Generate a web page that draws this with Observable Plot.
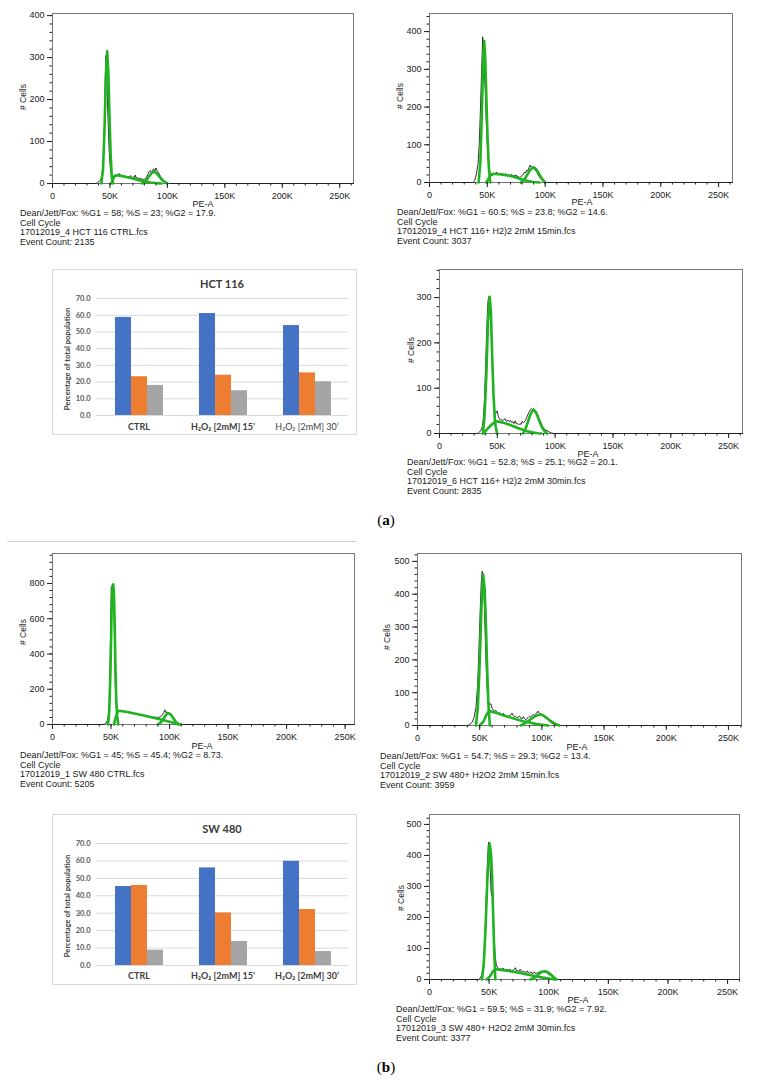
<!DOCTYPE html>
<html><head><meta charset="utf-8">
<script src="https://cdn.jsdelivr.net/npm/d3@7"></script>
<script src="https://cdn.jsdelivr.net/npm/@observablehq/plot@0.6"></script>
<style>
body{margin:0;background:#fff;}
#page{position:relative;width:757px;height:1086px;overflow:hidden;background:#fff;}
#page svg{position:absolute;overflow:visible;}
</style></head>
<body><div id="page"></div>
<script>
// ---------- histogram data: [PE-A (K), # Cells] ----------
const h1Black = [[0,0],[38,0],[39,2],[40.5,5],[42,8],[43,20],[44,45],[45,110],[45.8,230],[46.5,305],[47.2,270],[47.8,200],[48.5,140],[49.3,80],[50.2,40],[51,25],[52,16],[53,14],[54,18],[55,16],[56,22],[57,19],[58,24],[59,18],[60,21],[61,17],[62,20],[63,16],[64,18],[65,14],[66,17],[67,15],[68,19],[69,13],[70,16],[71,14],[72,20],[73,12],[74,14],[75,11],[76,13],[77,10],[78,12],[79,9],[80,11],[81,10],[82,16],[83,22],[84,28],[85,31],[86,26],[87,30],[88,35],[89,29],[90,37],[91,31],[92,27],[93,22],[94,17],[95,13],[96,9],[97,6],[98,4],[99,2],[100,1],[101,0],[262,0]];
const h1G1 = [[42.5,0],[44,35],[45.3,130],[46.5,260],[47.6,315],[48.6,265],[49.6,160],[50.6,70],[51.6,15],[52.7,0]];
const h1S = [[51,0],[52.5,8],[54,18],[56,20],[60,18],[65,15],[70,12],[75,8],[80,5],[85,2.5],[90,1],[95,0]];
const h1G2 = [[78,0],[80,3],[82,9],[84,17],[86,24],[88,28],[90,26],[92,20],[94,13],[96,7],[98,3],[100,0]];

const h2Black = [[0,0],[38,0],[39,5],[40,15],[41,30],[42,50],[43,100],[44,190],[45,290],[46,386],[46.8,340],[47.5,290],[48.3,240],[49,170],[50,100],[51,55],[52,30],[53,22],[54,18],[55,20],[56,23],[57,21],[58,28],[59,21],[60,24],[61,20],[62,25],[63,21],[64,23],[65,19],[66,24],[67,20],[68,18],[69,21],[70,17],[71,22],[72,16],[73,19],[74,17],[75,20],[76,15],[77,16],[78,13],[79,15],[80,18],[81,22],[82,27],[83,25],[84,33],[85,30],[86,40],[87,46],[88,39],[89,43],[90,37],[91,35],[92,30],[93,26],[94,20],[95,15],[96,10],[97,7],[98,4],[99,2],[100,1],[102,0],[262,0]];
const h2G1 = [[42.5,0],[44,55],[45.3,190],[46.4,320],[47.3,375],[48.2,330],[49.2,220],[50.3,110],[51.3,40],[52.5,0]];
const h2S = [[49,0],[51,10],[53,20],[55,23],[60,22],[65,20],[70,17],[75,13],[80,8],[85,4],[90,1.5],[95,0]];
const h2G2 = [[79,0],[81,5],[83,13],[85,23],[87,33],[89,39],[90.5,40],[92,36],[94,27],[96,16],[98,7],[100,0]];

const h3Black = [[0,0],[33,0],[34.5,3],[36,8],[37,15],[38,35],[39,80],[40,160],[41,240],[42,295],[42.8,302],[43.6,290],[44.4,250],[45.2,190],[46,120],[47,65],[48,42],[49,46],[49.8,50],[50.6,40],[51.5,34],[52.5,30],[53.5,31],[54.5,28],[55.5,30],[56.5,33],[57.5,28],[58.5,27],[59.5,30],[60.5,26],[61.5,29],[62.5,24],[63.5,26],[64.5,22],[65.5,28],[66.5,21],[67.5,22],[68.5,19],[69.5,22],[70.5,20],[71.5,27],[72.5,24],[73.5,26],[74.5,30],[75.5,36],[76.5,42],[77.5,48],[78.5,52],[79.5,55],[80.5,53],[81.5,55],[82.5,52],[83.5,49],[84.5,44],[85.5,38],[86.5,31],[87.5,26],[88.5,19],[89.5,14],[90.5,10],[92,7],[93.5,6],[95,3],[97,1],[99,0],[262,0]];
const h3G1 = [[37.5,0],[39,40],[40.5,130],[42,250],[43.4,302],[44.5,265],[45.5,175],[46.7,85],[48,25],[49.7,0]];
const h3S = [[38,0],[42,12],[46,22],[49.5,27],[55,24],[60,20],[65,15],[70,10],[75,5.5],[80,2.5],[85,0.5],[88,0]];
const h3G2 = [[72,0],[74,8],[76,22],[78,38],[80,49],[81.5,52],[83,48],[85,37],[87,23],[89,12],[91,5],[93,0]];

const h4Black = [[0,0],[43,0],[44.5,3],[46,10],[47,25],[48,60],[48.7,150],[49.3,350],[49.8,600],[50.2,780],[50.7,760],[51.2,720],[51.7,770],[52.2,790],[52.7,600],[53.2,380],[53.8,200],[54.5,110],[55.3,82],[56.5,78],[58,80],[59.5,76],[61,73],[62.5,70],[64,71],[65.5,66],[67,68],[68.5,63],[70,61],[71.5,58],[73,60],[74.5,55],[76,54],[77.5,51],[79,50],[80.5,47],[82,48],[83.5,44],[85,43],[86.5,40],[88,42],[89.5,39],[91,41],[92.5,45],[94,55],[95,68],[96,83],[97,66],[98,72],[99.5,62],[101,55],[102.5,42],[104,28],[105.5,16],[107,8],[108.5,3],[110,0],[258,0]];
const h4G1 = [[47.5,0],[48.5,80],[49.5,300],[50.5,640],[51.2,785],[51.9,795],[52.5,740],[53.1,580],[53.7,340],[54.4,150],[55.2,50],[56.2,0]];
const h4S = [[52.5,0],[54,40],[55.5,72],[57,78],[60,75],[65,69],[70,62],[75,55],[80,48],[85,40],[90,32],[95,24],[100,15],[105,7],[110,0]];
const h4G2 = [[90,0],[92.5,12],[95,34],[97,55],[99,64],[100.5,60],[102,48],[103.5,33],[105,18],[107.5,0]];

const h5Black = [[0,0],[40,0],[42,3],[44,10],[45.5,25],[47,55],[48.3,120],[49.3,220],[50.3,340],[51.2,430],[52,470],[52.8,450],[53.6,380],[54.4,280],[55.2,180],[56,110],[57,72],[58,64],[59,66],[60,52],[61,47],[62,44],[63,46],[64,40],[65,37],[66,39],[67,33],[68,30],[69,37],[70,32],[71,29],[72,31],[73,27],[74,30],[75,33],[76,38],[77,30],[78,27],[79,28],[80,24],[81,26],[82,29],[83,22],[84,20],[85,27],[86,21],[87,17],[88,22],[89,24],[90,28],[91,25],[92,31],[93,33],[94,30],[95,36],[96,38],[97,44],[98,36],[99,34],[100,31],[101,30],[102,26],[103,24],[104,20],[105,16],[106,13],[107,10],[108,7],[109,5],[110,3],[111,1],[112,0],[260.5,0]];
const h5G1 = [[47,0],[48.5,55],[50,190],[51.5,370],[52.8,460],[54,415],[55,310],[56,175],[57,65],[58.2,0]];
const h5S = [[50,0],[53,12],[55.5,33],[57.5,44],[62,40],[66,35],[70,30],[75,24],[80,18],[85,13],[90,9],[95,5],[100,2.5],[105,0]];
const h5G2 = [[83,0],[87,8],[91,19],[95,29],[98.4,34],[101,31],[104,23],[107,14],[110,6],[114,0]];

const h6Black = [[0,0],[41,0],[42.5,4],[44,15],[45.3,45],[46.3,110],[47.3,230],[48.3,350],[49.2,430],[49.6,443],[50.3,420],[51,350],[51.6,285],[52.2,270],[52.8,300],[53.4,230],[54.2,140],[55,80],[56,48],[57,38],[58,36],[59,33],[60,35],[61,32],[62,37],[63,31],[64,30],[65,34],[66,29],[67,33],[68,31],[69,28],[70,30],[71,32],[72,38],[73,27],[74,29],[75,26],[76,33],[77,25],[78,28],[79,23],[80,26],[81,22],[82,28],[83,21],[84,20],[85,25],[86,19],[87,21],[88,24],[89,18],[90,22],[91,20],[92,25],[93,23],[94,28],[95,24],[96,27],[97,22],[98,23],[99,19],[100,17],[101,14],[102,12],[103,9],[104,6],[105,4],[106,2],[107,1],[108,0],[260,0]];
const h6G1 = [[44,0],[45.5,50],[47,165],[48.5,320],[50.5,438],[51.7,400],[52.5,330],[53.3,220],[54.2,100],[55.2,0]];
const h6S = [[48,0],[51,12],[53.5,28],[55.5,33],[60,31],[65,28],[70,25],[75,22],[80,18],[85,14],[90,10],[95,6],[100,3],[105,0]];
const h6G2 = [[84.5,0],[88,6],[91,15],[94,24],[96.7,27],[99,24],[101.5,17],[104,8],[106.5,0]];

// ---------- tick labels ----------
const xMajorTicks = [0, 50, 100, 150, 200, 250];
const yTicks100 = [0, 100, 200, 300, 400];
const yTicks200 = [0, 200, 400, 600, 800];
const yTicks500 = [0, 100, 200, 300, 400, 500];

// ---------- histogram captions ----------
const h1Text = ["Dean/Jett/Fox: %G1 = 58; %S = 23; %G2 = 17.9.", "Cell Cycle", "17012019_4 HCT 116 CTRL.fcs", "Event Count: 2135"];
const h2Text = ["Dean/Jett/Fox: %G1 = 60.5; %S = 23.8; %G2 = 14.6.", "Cell Cycle", "17012019_4 HCT 116+ H2)2 2mM 15min.fcs", "Event Count: 3037"];
const h3Text = ["Dean/Jett/Fox: %G1 = 52.8; %S = 25.1; %G2 = 20.1.", "Cell Cycle", "17012019_6 HCT 116+ H2)2 2mM 30min.fcs", "Event Count: 2835"];
const h4Text = ["Dean/Jett/Fox: %G1 = 45; %S = 45.4; %G2 = 8.73.", "Cell Cycle", "17012019_1 SW 480 CTRL.fcs", "Event Count: 5205"];
const h5Text = ["Dean/Jett/Fox: %G1 = 54.7; %S = 29.3; %G2 = 13.4.", "Cell Cycle", "17012019_2 SW 480+ H2O2 2mM 15min.fcs", "Event Count: 3959"];
const h6Text = ["Dean/Jett/Fox: %G1 = 59.5; %S = 31.9; %G2 = 7.92.", "Cell Cycle", "17012019_3 SW 480+ H2O2 2mM 30min.fcs", "Event Count: 3377"];

// ---------- bar chart data ----------
const barCategories = ["CTRL", "H\u2082O\u2082 [2mM] 15\u2019", "H\u2082O\u2082 [2mM] 30\u2019"];
const barSeries = ["G1", "S", "G2"];
const barColors = ["#4472C4", "#ED7D31", "#A5A5A5"];
const barYTicks = [0, 10, 20, 30, 40, 50, 60, 70];
const hctG1 = [58.7, 61.0, 53.8];
const hctS = [23.2, 24.1, 25.5];
const hctG2 = [18.0, 14.8, 20.2];
const swG1 = [45.3, 56.0, 59.8];
const swS = [45.9, 30.2, 32.1];
const swG2 = [8.8, 13.8, 8.0];

// ---------- helpers ----------
const page = document.getElementById("page");
const GREEN = "#1fb41f";
const SANS = "'Liberation Sans', Arial, sans-serif";
const CAL = "Lato, 'Open Sans', sans-serif";

function addText(txt, x, y, o = {}) {
  const d = document.createElement("div");
  if (o.html) d.innerHTML = txt; else d.textContent = txt;
  Object.assign(d.style, {
    position: "absolute", left: x + "px", top: y + "px", whiteSpace: "nowrap",
    fontFamily: o.font || SANS, fontSize: (o.size || 9) + "px", lineHeight: "1",
    color: o.color || "#1a1a1a", fontWeight: o.weight || "normal"
  });
  let t = "translateY(-50%)";
  if (o.center) t = "translate(-50%,-50%)";
  if (o.rotate) t = "translate(-50%,-50%) rotate(-90deg)";
  d.style.transform = t;
  page.appendChild(d);
  return d;
}
function place(svg, left, top) {
  svg.style.left = left + "px";
  svg.style.top = top + "px";
  page.appendChild(svg);
}
function minorTicks(max, step) {
  const out = [];
  for (let v = 0; v <= max; v += step) out.push(v);
  return out;
}

function histogram(c) {
  const mL = 34, mR = 24, mT = 6, mB = 20;
  const xy = {x: d => d[0], y: d => d[1]};
  const svg = Plot.plot({
    width: c.R - c.L + mL + mR,
    height: c.B - c.T + mT + mB,
    marginLeft: mL, marginRight: mR, marginTop: mT, marginBottom: mB,
    style: {background: "transparent", fontFamily: SANS, fontSize: "9px", color: "#222"},
    x: {domain: [0, c.xmax]},
    y: {domain: [0, c.ymax]},
    marks: [
      Plot.frame({stroke: "#777"}),
      Plot.line(c.black, {...xy, stroke: "#1a1a1a", strokeWidth: 0.9}),
      Plot.line(c.g1, {...xy, stroke: GREEN, strokeWidth: 2.6, strokeLinejoin: "round", strokeLinecap: "round"}),
      Plot.line(c.s, {...xy, stroke: GREEN, strokeWidth: 2.6, strokeLinejoin: "round", strokeLinecap: "round"}),
      Plot.line(c.g2, {...xy, stroke: GREEN, strokeWidth: 2.6, strokeLinejoin: "round", strokeLinecap: "round"}),
      Plot.axisY(c.yTicks, {tickSize: 5, tickPadding: 3, label: null, fontSize: 9}),
      Plot.axisY(minorTicks(c.ymax, c.yMinor), {tickSize: 2.5, tickFormat: () => "", label: null}),
      Plot.axisX(xMajorTicks, {tickSize: 5, tickPadding: 4, tickFormat: d => d === 0 ? "0" : d + "K", label: null, fontSize: 9}),
      Plot.axisX(minorTicks(c.xmax, 10), {tickSize: 2.5, tickFormat: () => "", label: null})
    ]
  });
  place(svg, c.L - mL, c.T - mT);
  addText("PE-A", c.peX, c.peY, {center: true});
  addText("# Cells", c.cX, c.cY, {rotate: true, size: 8.5});
  c.text.forEach((t, i) => addText(t, c.tx, c.ty + i * 9.6));
}

function barChart(c) {
  const W = 305, mL = 44, mR = 9, mT = 29;
  const mB = c.H - mT - c.plotH;
  const box = document.createElement("div");
  Object.assign(box.style, {position: "absolute", left: c.left + "px", top: c.top + "px", width: W + "px", height: c.H + "px", border: "1px solid #d9d9d9", boxSizing: "border-box"});
  page.appendChild(box);
  const grid = Plot.plot({
    width: W, height: c.H, marginLeft: mL, marginRight: mR, marginTop: mT, marginBottom: mB,
    style: {background: "transparent", fontFamily: CAL, color: "#595959"},
    y: {domain: [0, 70]},
    marks: [
      Plot.ruleY(barYTicks, {stroke: "#d9d9d9", strokeWidth: 1}),
      Plot.axisY(barYTicks, {tickSize: 0, tickPadding: 6, tickFormat: d3.format(".1f"), fontSize: 7.5, fontWeight: "bold", label: null})
    ]
  });
  place(grid, c.left, c.top);
  const rows = barCategories.flatMap((cat, i) => barSeries.map((s, j) => ({cat, series: s, value: c.values[j][i]})));
  const bars = Plot.plot({
    width: W, height: c.H, marginLeft: mL, marginRight: mR, marginTop: mT, marginBottom: mB,
    style: {background: "transparent", fontFamily: CAL, color: "#404040"},
    fx: {domain: barCategories, paddingInner: 0.42, paddingOuter: 0.21, label: null},
    x: {domain: barSeries, padding: 0, axis: null},
    y: {domain: [0, 70], axis: null},
    color: {domain: barSeries, range: barColors},
    marks: [
      Plot.barY(rows, {fx: "cat", x: "series", y: "value", fill: "series"}),
      Plot.axisFx({anchor: "bottom", tickSize: 0, tickPadding: c.fxPad, fontSize: 9, fontWeight: "bold", label: null})
    ]
  });
  if (c.lightLast) {
    d3.select(bars).selectAll("text").filter(function() { return this.textContent.includes("30"); }).attr("font-weight", "normal");
  }
  place(bars, c.left, c.top);
  addText(c.title, c.left + mL + (W - mL - mR) / 2, c.top + 14, {center: true, size: 11, weight: "bold", color: "#3a3a3a", font: CAL});
  addText("Percentage of total population", c.left + 16, c.top + mT + c.plotH / 2 + 2, {rotate: true, size: 7.6, weight: "bold", color: "#404040", font: CAL});
}

// ---------- panel (a) ----------
histogram({L: 52, R: 353, T: 13, B: 183, xmax: 262, ymax: 405, yTicks: yTicks100, yMinor: 20,
  black: h1Black, g1: h1G1, s: h1S, g2: h1G2, text: h1Text,
  peX: 203, peY: 204, cX: 23, cY: 97, tx: 20, ty: 213});
histogram({L: 429, R: 732, T: 13, B: 182, xmax: 262, ymax: 448, yTicks: yTicks100, yMinor: 20,
  black: h2Black, g1: h2G1, s: h2S, g2: h2G2, text: h2Text,
  peX: 582, peY: 202, cX: 400, cY: 96, tx: 397, ty: 212});
histogram({L: 439, R: 742, T: 269, B: 433, xmax: 262, ymax: 362, yTicks: [0, 100, 200, 300], yMinor: 20,
  black: h3Black, g1: h3G1, s: h3S, g2: h3G2, text: h3Text,
  peX: 588, peY: 454, cX: 411, cY: 350, tx: 407, ty: 462});
barChart({left: 52, top: 269, H: 166, plotH: 117, fxPad: 8, title: "HCT 116", values: [hctG1, hctS, hctG2], lightLast: true});

// ---------- panel (b) ----------
histogram({L: 52, R: 354, T: 553, B: 724, xmax: 258, ymax: 970, yTicks: yTicks200, yMinor: 40,
  black: h4Black, g1: h4G1, s: h4S, g2: h4G2, text: h4Text,
  peX: 202, peY: 746, cX: 23, cY: 632, tx: 20, ty: 755});
histogram({L: 417, R: 741, T: 553, B: 725, xmax: 260.5, ymax: 524, yTicks: yTicks500, yMinor: 20,
  black: h5Black, g1: h5G1, s: h5S, g2: h5G2, text: h5Text,
  peX: 577, peY: 747, cX: 387, cY: 637, tx: 380, ty: 756});
histogram({L: 429, R: 739, T: 814, B: 979, xmax: 260, ymax: 532, yTicks: yTicks500, yMinor: 20,
  black: h6Black, g1: h6G1, s: h6S, g2: h6G2, text: h6Text,
  peX: 578, peY: 1000, cX: 401, cY: 898, tx: 396, ty: 1009});
barChart({left: 52, top: 814, H: 171, plotH: 122, fxPad: 7, title: "SW 480", values: [swG1, swS, swG2], lightLast: false});

// separator and panel labels
const sep = document.createElement("div");
Object.assign(sep.style, {position: "absolute", left: "7px", top: "541px", width: "350px", height: "1px", background: "#d4d4d4"});
page.appendChild(sep);
addText("(<b>a</b>)", 386, 520, {html: true, center: true, size: 15, font: "'Liberation Serif', 'Times New Roman', serif", color: "#000"});
addText("(<b>b</b>)", 386, 1067, {html: true, center: true, size: 15, font: "'Liberation Serif', 'Times New Roman', serif", color: "#000"});
</script>
</body></html>
